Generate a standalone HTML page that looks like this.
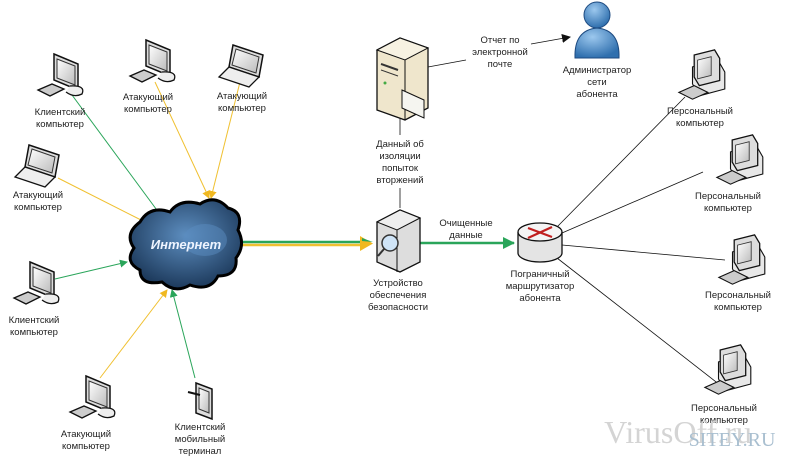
<!DOCTYPE html>
<html><head><meta charset="utf-8">
<style>
html,body{margin:0;padding:0;background:#fff;}
svg{display:block}
text{font-family:"Liberation Sans","Noto Sans CJK SC",sans-serif;font-size:9.5px;fill:#222;text-anchor:middle}
</style></head><body>
<svg width="794" height="461" viewBox="0 0 794 461" xmlns="http://www.w3.org/2000/svg">
<defs>
<marker id="ag" markerWidth="8" markerHeight="8" refX="7" refY="4" orient="auto" markerUnits="userSpaceOnUse"><path d="M0,0 L8,4 L0,8 z" fill="#2aa55a"/></marker>
<marker id="ay" markerWidth="8" markerHeight="8" refX="7" refY="4" orient="auto" markerUnits="userSpaceOnUse"><path d="M0,0 L8,4 L0,8 z" fill="#f0b820"/></marker>
<marker id="ab" markerWidth="9" markerHeight="9" refX="8" refY="4.5" orient="auto" markerUnits="userSpaceOnUse"><path d="M0,0 L9,4.5 L0,9 z" fill="#111"/></marker>
<marker id="ag2" markerWidth="12" markerHeight="12" refX="11" refY="6" orient="auto" markerUnits="userSpaceOnUse"><path d="M0,0 L12,6 L0,12 z" fill="#2aa55a"/></marker>
<linearGradient id="scr" x1="0" y1="0" x2="1" y2="1"><stop offset="0" stop-color="#fff"/><stop offset="1" stop-color="#bbb"/></linearGradient>
<radialGradient id="cl" cx="0.5" cy="0.4" r="0.6"><stop offset="0" stop-color="#5d8ec0"/><stop offset="1" stop-color="#1d3a5c"/></radialGradient>
<radialGradient id="pp" cx="0.4" cy="0.3" r="0.7"><stop offset="0" stop-color="#9cc8ee"/><stop offset="1" stop-color="#2f6fae"/></radialGradient>
<g id="mon">
 <path d="M6,0 L30,10 L30,36 L6,26 z" fill="#ddd" stroke="#111" stroke-width="1.5"/>
 <path d="M9,5 L27,12 L27,31 L9,24 z" fill="url(#scr)" stroke="#333"/>
 <path d="M22,32 Q38,31 34,40 Q26,44 18,38" fill="#eee" stroke="#111" stroke-width="1.3"/>
 <path d="M-10,36 L4,30 L16,35 L2,42 z" fill="#ccc" stroke="#111" stroke-width="1.3"/>
</g>
<g id="lap">
 <path d="M14,0 L44,10 L40,32 L10,22 z" fill="#ddd" stroke="#111" stroke-width="1.5"/>
 <path d="M17,4 L40,12 L37,28 L13,20 z" fill="url(#scr)" stroke="#333"/>
 <path d="M10,22 L40,32 L30,42 L0,32 z" fill="#eee" stroke="#111" stroke-width="1.3"/>
</g>
<g id="pc">
 <path d="M10,14 L40,6 L48,20 L48,40 L18,48 L10,34 z" fill="#e8e8e8" stroke="#111" stroke-width="1.3"/>
 <path d="M12,0 L36,-6 L42,4 L42,30 L18,36 L12,26 z" fill="#ddd" stroke="#111" stroke-width="1.5"/>
 <path d="M16,6 L32,2 L32,24 L16,28 z" fill="url(#scr)" stroke="#333"/>
 <path d="M-6,44 L12,36 L28,44 L10,52 z" fill="#ccc" stroke="#111" stroke-width="1.3"/>
</g>
</defs>

<g stroke-width="1">
<line x1="72" y1="95" x2="162" y2="217" stroke="#2aa55a" marker-end="url(#ag)"/>
<line x1="155" y1="82" x2="209" y2="198" stroke="#f0c030" marker-end="url(#ay)"/>
<line x1="240" y1="82" x2="211" y2="198" stroke="#f0c030" marker-end="url(#ay)"/>
<line x1="58" y1="178" x2="147" y2="223" stroke="#f0c030" marker-end="url(#ay)"/>
<line x1="55" y1="279" x2="127" y2="262" stroke="#2aa55a" marker-end="url(#ag)"/>
<line x1="100" y1="378" x2="167" y2="290" stroke="#f0c030" marker-end="url(#ay)"/>
<line x1="195" y1="378" x2="172" y2="290" stroke="#2aa55a" marker-end="url(#ag)"/>
</g>
<line x1="238" y1="242" x2="362" y2="242" stroke="#2aa55a" stroke-width="2.5"/>
<line x1="238" y1="245" x2="362" y2="245" stroke="#f0c030" stroke-width="2.5"/>
<path d="M360,236 L373,243.5 L360,251 z" fill="#f0b820"/>
<path d="M362,238 L373,242 L362,241 z" fill="#2aa55a"/>
<line x1="420" y1="243" x2="514" y2="243" stroke="#2aa55a" stroke-width="2.5" marker-end="url(#ag2)"/>
<line x1="400" y1="208" x2="400" y2="188" stroke="#111" stroke-width="0.8"/>
<line x1="400" y1="135" x2="400" y2="108" stroke="#111" stroke-width="0.8" marker-end="url(#ab)"/>
<line x1="428" y1="67" x2="466" y2="60" stroke="#111" stroke-width="0.8"/>
<line x1="531" y1="44" x2="570" y2="37" stroke="#111" stroke-width="0.8" marker-end="url(#ab)"/>
<g stroke="#111" stroke-width="0.8">
<line x1="556" y1="228" x2="685" y2="97"/>
<line x1="562" y1="233" x2="703" y2="172"/>
<line x1="562" y1="245" x2="725" y2="260"/>
<line x1="557" y1="258" x2="720" y2="385"/>
</g>

<path d="M140,222 Q150,205 170,212 Q180,198 200,204 Q215,194 228,208 Q244,212 238,230 Q246,245 236,258 Q238,276 218,276 Q210,292 190,285 Q175,294 162,282 Q140,286 140,270 Q124,262 134,248 Q124,234 140,222 z" fill="url(#cl)" stroke="#000" stroke-width="3"/>
<ellipse cx="205" cy="240" rx="22" ry="16" fill="#5a8cc0" opacity="0.5"/>
<text x="186" y="249" style="font-size:13px;font-weight:bold;font-style:italic;fill:#eef4ff">Интернет</text>

<use href="#mon" transform="translate(48,54)"/>
<use href="#mon" transform="translate(140,40)"/>
<use href="#lap" transform="translate(219,45)"/>
<use href="#lap" transform="translate(15,145)"/>
<use href="#mon" transform="translate(24,262)"/>
<use href="#mon" transform="translate(80,376)"/>
<g transform="translate(190,383)">
 <path d="M6,0 L22,6 L22,36 L6,30 z" fill="#ddd" stroke="#111" stroke-width="1.5"/>
 <path d="M9,5 L19,9 L19,30 L9,26 z" fill="url(#scr)" stroke="#333"/>
 <line x1="-2" y1="9" x2="10" y2="12" stroke="#111" stroke-width="2"/>
</g>

<text x="60" y="115">Клиентский</text><text x="60" y="127">компьютер</text>
<text x="148" y="100">Атакующий</text><text x="148" y="112">компьютер</text>
<text x="242" y="99">Атакующий</text><text x="242" y="111">компьютер</text>
<text x="38" y="198">Атакующий</text><text x="38" y="210">компьютер</text>
<text x="34" y="323">Клиентский</text><text x="34" y="335">компьютер</text>
<text x="86" y="437">Атакующий</text><text x="86" y="449">компьютер</text>
<text x="200" y="430">Клиентский</text><text x="200" y="442">мобильный</text><text x="200" y="454">терминал</text>

<g>
 <path d="M377,50 L400,38 L428,48 L428,108 L405,120 L377,110 z" fill="#efe6cc" stroke="#111" stroke-width="1.3"/>
 <path d="M377,50 L400,38 L428,48 L405,60 z" fill="#f7f2e2" stroke="#111"/>
 <path d="M405,60 L405,120" stroke="#111"/>
 <line x1="381" y1="64" x2="398" y2="70" stroke="#333" stroke-width="2"/>
 <line x1="381" y1="70" x2="398" y2="76" stroke="#333" stroke-width="1"/>
 <circle cx="385" cy="83" r="1.5" fill="#4a4"/>
 <path d="M402,90 L424,100 L424,118 L402,108 z" fill="#f5f5f0" stroke="#111"/>
</g>
<text x="400" y="147">Данный об</text><text x="400" y="159">изоляции</text><text x="400" y="171">попыток</text><text x="400" y="183">вторжений</text>
<text x="500" y="43">Отчет по</text><text x="500" y="55">электронной</text><text x="500" y="67">почте</text>

<circle cx="597" cy="15" r="13" fill="url(#pp)" stroke="#1d4a80"/>
<path d="M575,58 Q574,30 597,28 Q620,30 619,58 z" fill="url(#pp)" stroke="#1d4a80"/>
<text x="597" y="73">Администратор</text><text x="597" y="85">сети</text><text x="597" y="97">абонента</text>

<g>
 <path d="M377,222 L400,210 L420,218 L420,262 L400,272 L377,262 z" fill="#ddd" stroke="#111" stroke-width="1.3"/>
 <path d="M377,222 L400,210 L420,218 L397,230 z" fill="#eee" stroke="#111"/>
 <path d="M397,230 L397,272" stroke="#111"/>
 <circle cx="390" cy="243" r="8" fill="#cfe4f7" stroke="#333" stroke-width="1.5"/>
 <line x1="384" y1="249" x2="378" y2="256" stroke="#333" stroke-width="2"/>
</g>
<text x="398" y="286">Устройство</text><text x="398" y="298">обеспечения</text><text x="398" y="310">безопасности</text>
<text x="466" y="226">Очищенные</text><text x="466" y="238">данные</text>

<g>
 <path d="M518,232 L518,253 A22,9 0 0 0 562,253 L562,232" fill="#e4e4e4" stroke="#111" stroke-width="1.3"/>
 <ellipse cx="540" cy="232" rx="22" ry="9" fill="#f4f4f4" stroke="#111" stroke-width="1.3"/>
 <g stroke="#c02020" stroke-width="2.2">
  <line x1="528" y1="228" x2="552" y2="237"/><line x1="552" y1="227" x2="528" y2="238"/>
 </g>
</g>
<text x="540" y="277">Пограничный</text><text x="540" y="289">маршрутизатор</text><text x="540" y="301">абонента</text>

<use href="#pc" transform="translate(684,55) scale(0.85)"/>
<use href="#pc" transform="translate(722,140) scale(0.85)"/>
<use href="#pc" transform="translate(724,240) scale(0.85)"/>
<use href="#pc" transform="translate(710,350) scale(0.85)"/>
<text x="700" y="114">Персональный</text><text x="700" y="126">компьютер</text>
<text x="728" y="199">Персональный</text><text x="728" y="211">компьютер</text>
<text x="738" y="298">Персональный</text><text x="738" y="310">компьютер</text>
<text x="724" y="411">Персональный</text><text x="724" y="423">компьютер</text>

<text x="678" y="443" style="font-family:'Liberation Serif',serif;font-size:32px;fill:#d4d4d4">VirusOff.ru</text>
<text x="732" y="446" style="font-family:'Liberation Serif',serif;font-size:20px;fill:#a9bfd0">SITEY.RU</text>
</svg>
</body></html>
